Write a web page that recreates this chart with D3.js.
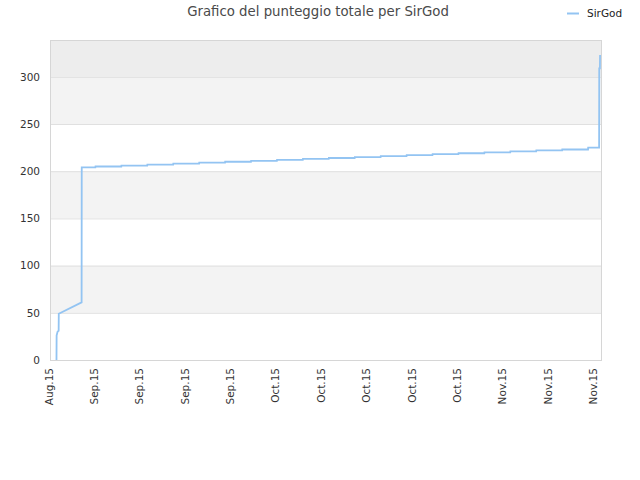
<!DOCTYPE html>
<html>
<head>
<meta charset="utf-8">
<script src="https://cdn.jsdelivr.net/npm/d3@7"></script>
<style>
  body { margin: 0; background: #fff; }
  text { font-family: "DejaVu Sans", sans-serif; }
</style>
</head>
<body>
<svg id="chart" width="640" height="480"></svg>
<script>
// Punteggio totale di SirGod
var TITLE = "Grafico del punteggio totale per SirGod";
var SERIES = "SirGod";

// istanti (ora locale) e punteggio in quell'istante
var times = [
  "2015-08-28T00:00", "2015-08-28T00:30", "2015-08-28T04:00", "2015-08-28T08:00",
  "2015-08-28T08:30", "2015-08-31T21:00", "2015-08-31T21:30",
  "2015-09-03T00:00", "2015-09-03T00:30",
  "2015-09-07T00:00", "2015-09-07T00:30",
  "2015-09-11T00:00", "2015-09-11T00:30",
  "2015-09-15T00:00", "2015-09-15T00:30",
  "2015-09-19T00:00", "2015-09-19T00:30",
  "2015-09-23T00:00", "2015-09-23T00:30",
  "2015-09-27T00:00", "2015-09-27T00:30",
  "2015-10-01T00:00", "2015-10-01T00:30",
  "2015-10-05T00:00", "2015-10-05T00:30",
  "2015-10-09T00:00", "2015-10-09T00:30",
  "2015-10-13T00:00", "2015-10-13T00:30",
  "2015-10-17T00:00", "2015-10-17T00:30",
  "2015-10-21T00:00", "2015-10-21T00:30",
  "2015-10-25T00:00", "2015-10-25T00:30",
  "2015-10-29T00:00", "2015-10-29T00:30",
  "2015-11-02T00:00", "2015-11-02T00:30",
  "2015-11-06T00:00", "2015-11-06T00:30",
  "2015-11-10T00:00", "2015-11-10T00:30",
  "2015-11-14T00:00", "2015-11-14T00:30",
  "2015-11-18T00:00", "2015-11-18T00:30",
  "2015-11-19T17:00", "2015-11-19T17:30", "2015-11-19T20:00", "2015-11-19T20:30"
];
var scores = [
  0, 26, 30, 31,
  49, 61, 204,
  204, 205,
  205, 206,
  206, 207,
  207, 208,
  208, 209,
  209, 210,
  210, 211,
  211, 212,
  212, 213,
  213, 214,
  214, 215,
  215, 216,
  216, 217,
  217, 218,
  218, 219,
  219, 220,
  220, 221,
  221, 222,
  222, 223,
  223, 225,
  225, 309, 309, 323
];

var xStart = "2015-08-27T00:00", xEnd = "2015-11-20T00:00";
var yMax = 339;
var yTicks = [0, 50, 100, 150, 200, 250, 300];
var bands = [[50, 100, "#f3f3f3"], [150, 200, "#f3f3f3"], [250, 300, "#f3f3f3"], [300, 339, "#ededed"]];

var parse = d3.timeParse("%Y-%m-%dT%H:%M");
var data = times.map((t, i) => ({date: parse(t), value: scores[i]}));

var W = 640, H = 480;
var m = {top: 40, right: 39, bottom: 120, left: 50};
var iw = W - m.left - m.right, ih = H - m.top - m.bottom;

var svg = d3.select("#chart");
var g = svg.append("g").attr("transform", "translate(" + m.left + "," + m.top + ")");

var x = d3.scaleTime().domain([parse(xStart), parse(xEnd)]).range([0, iw]);
var y = d3.scaleLinear().domain([0, yMax]).range([ih, 0]);

// fasce di sfondo
g.selectAll("rect.band").data(bands).enter()
  .append("rect")
  .attr("class", "band")
  .attr("x", 0)
  .attr("width", iw)
  .attr("y", d => y(d[1]))
  .attr("height", d => y(d[0]) - y(d[1]))
  .style("fill", d => d[2]);

// griglia orizzontale
g.selectAll("line.grid").data(yTicks.slice(1)).enter()
  .append("line")
  .attr("class", "grid")
  .attr("x1", 0).attr("x2", iw)
  .attr("y1", d => y(d) + 0.5).attr("y2", d => y(d) + 0.5)
  .style("stroke", "#e0e0e0");

// bordo dell'area
g.append("rect")
  .attr("x", 0.5).attr("y", 0.5)
  .attr("width", iw).attr("height", ih)
  .style("fill", "none")
  .style("stroke", "#d6d6d6");

// asse y
var yAxis = g.append("g")
  .call(d3.axisLeft(y).tickValues(yTicks).tickSize(0).tickPadding(10));
yAxis.select(".domain").remove();
yAxis.selectAll("text")
  .style("font-family", "DejaVu Sans")
  .style("font-size", "10.5px")
  .style("fill", "#333");

// asse x
var xAxis = g.append("g")
  .attr("transform", "translate(0," + ih + ")")
  .call(d3.axisBottom(x)
    .ticks(d3.timeThursday.every(1))
    .tickFormat(d3.timeFormat("%b.%y"))
    .tickSize(0));
xAxis.select(".domain").remove();
xAxis.selectAll("text")
  .attr("transform", "rotate(-90)")
  .attr("x", -8)
  .attr("y", 0)
  .attr("dy", "0.2em")
  .style("text-anchor", "end")
  .style("font-family", "DejaVu Sans")
  .style("font-size", "10.5px")
  .style("fill", "#333");

// linea del punteggio
var line = d3.line()
  .x(d => x(d.date))
  .y(d => y(d.value));

g.append("path")
  .datum(data)
  .attr("d", line)
  .style("fill", "none")
  .style("stroke", "#93c4f2")
  .style("stroke-width", 1.8);

// titolo
svg.append("text")
  .attr("x", 318)
  .attr("y", 16)
  .style("text-anchor", "middle")
  .style("font-size", "13.3px")
  .style("fill", "#4a4a4a")
  .text(TITLE);

// legenda
var leg = svg.append("g").attr("transform", "translate(567,13)");
leg.append("line")
  .attr("x1", 0).attr("x2", 12)
  .attr("y1", 0.5).attr("y2", 0.5)
  .style("stroke", "#93c4f2")
  .style("stroke-width", 2);
leg.append("text")
  .attr("x", 20)
  .attr("y", 4)
  .style("font-size", "10.5px")
  .style("fill", "#222")
  .text(SERIES);
</script>
</body>
</html>
